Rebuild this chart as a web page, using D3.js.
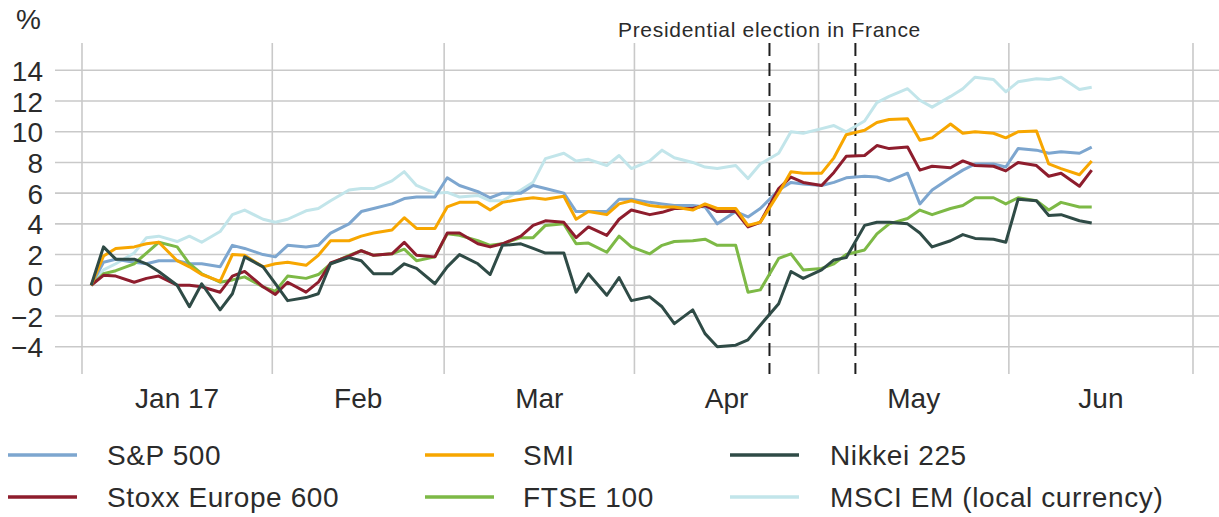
<!DOCTYPE html>
<html>
<head>
<meta charset="utf-8">
<script src="https://cdnjs.cloudflare.com/ajax/libs/d3/7.8.5/d3.min.js"></script>
<style>
  body { margin: 0; background: #fff; }
  text { font-family: "Liberation Sans", Arial, sans-serif; fill: #2b2b2b; }
</style>
</head>
<body>
<div class="chart"></div>
<script>
var dates = [
  "2017-01-02","2017-01-04","2017-01-06","2017-01-09","2017-01-11","2017-01-13","2017-01-16","2017-01-18","2017-01-20","2017-01-23","2017-01-25","2017-01-27","2017-01-30",
  "2017-02-01","2017-02-03","2017-02-06","2017-02-08","2017-02-10","2017-02-13","2017-02-15","2017-02-17","2017-02-20","2017-02-22","2017-02-24","2017-02-27",
  "2017-03-01","2017-03-03","2017-03-06","2017-03-08","2017-03-10","2017-03-13","2017-03-15","2017-03-17","2017-03-20","2017-03-22","2017-03-24","2017-03-27","2017-03-29","2017-03-31",
  "2017-04-03","2017-04-05","2017-04-07","2017-04-10","2017-04-12","2017-04-14","2017-04-17","2017-04-19","2017-04-21","2017-04-24","2017-04-26","2017-04-28",
  "2017-05-01","2017-05-03","2017-05-05","2017-05-08","2017-05-10","2017-05-12","2017-05-15","2017-05-17","2017-05-19","2017-05-22","2017-05-24","2017-05-26","2017-05-29","2017-05-31",
  "2017-06-02","2017-06-05","2017-06-07","2017-06-09","2017-06-12","2017-06-14"
];

var sp500 = [0,1.5,1.7,1.5,1.4,1.6,1.6,1.4,1.4,1.2,2.6,2.4,2.0,
  1.85,2.6,2.5,2.6,3.4,4.0,4.8,5.0,5.3,5.65,5.75,5.75,
  7.0,6.5,6.1,5.7,6.0,6.0,6.5,6.3,6.0,4.8,4.8,4.8,5.6,5.6,
  5.4,5.3,5.2,5.2,5.1,4.0,4.8,4.45,5.0,6.2,6.7,6.6,
  6.5,6.7,7.0,7.1,7.05,6.8,7.3,5.3,6.2,7.0,7.5,7.9,7.9,7.7,
  8.9,8.8,8.6,8.7,8.6,9.0];

var stoxx600 = [0,0.65,0.6,0.2,0.45,0.6,0.0,0.0,-0.1,-0.45,0.6,0.9,-0.1,
  -0.6,0.2,-0.45,0.2,1.45,1.9,2.25,1.95,2.05,2.8,1.95,1.85,
  3.4,3.4,2.7,2.5,2.7,3.2,3.9,4.2,4.1,3.1,3.8,3.25,4.3,4.9,
  4.6,4.75,5.0,5.0,5.2,4.8,4.8,3.8,4.1,6.3,7.05,6.7,
  6.5,7.35,8.4,8.45,9.1,8.9,9.0,7.5,7.75,7.65,8.1,7.8,7.75,7.45,
  8.0,7.8,7.1,7.3,6.45,7.5];

var smi = [0,1.9,2.4,2.5,2.7,2.8,1.6,1.2,0.7,0.25,2.0,1.95,1.2,
  1.4,1.5,1.3,1.95,2.9,2.9,3.2,3.4,3.6,4.4,3.7,3.7,
  5.1,5.4,5.4,4.9,5.4,5.6,5.7,5.6,5.8,4.3,4.8,4.6,5.3,5.5,
  5.2,5.1,5.1,4.9,5.3,5.0,5.0,3.9,4.1,6.0,7.4,7.3,
  7.3,8.3,9.8,10.1,10.6,10.8,10.85,9.45,9.6,10.5,9.9,10.0,9.9,9.6,
  10.0,10.05,7.9,7.6,7.2,8.1];

var ftse100 = [0,0.75,0.95,1.4,2.1,2.8,2.5,1.4,0.75,0.2,0.35,0.55,-0.1,
  -0.4,0.6,0.45,0.7,1.4,1.95,2.25,1.95,2.05,2.35,1.6,1.85,
  3.35,3.25,2.9,2.6,2.7,3.1,3.1,3.9,4.0,2.7,2.75,2.15,3.2,2.5,
  2.05,2.6,2.85,2.9,3.0,2.6,2.6,-0.45,-0.3,1.75,2.05,1.0,
  1.1,1.4,2.0,2.3,3.35,4.0,4.35,4.9,4.6,5.0,5.2,5.7,5.7,5.3,
  5.7,5.5,4.9,5.4,5.1,5.1];

var nikkei225 = [0,2.5,1.7,1.7,1.4,0.9,0.0,-1.4,0.1,-1.6,-0.55,1.85,1.2,
  0.1,-1.0,-0.8,-0.55,1.4,1.8,1.6,0.75,0.75,1.4,1.1,0.1,
  1.2,2.0,1.4,0.7,2.6,2.7,2.4,2.1,2.1,-0.45,0.75,-0.65,0.5,-1.0,
  -0.75,-1.4,-2.5,-1.6,-3.15,-4.0,-3.9,-3.55,-2.6,-1.2,0.9,0.45,
  1.0,1.65,1.8,3.9,4.1,4.1,4.0,3.4,2.5,2.9,3.3,3.05,3.0,2.8,
  5.6,5.5,4.55,4.6,4.2,4.05];

var msciEm = [0,1.0,1.4,2.1,3.1,3.2,2.85,3.2,2.8,3.5,4.6,4.9,4.3,
  4.1,4.3,4.85,5.0,5.5,6.2,6.3,6.3,6.8,7.4,6.5,6.0,
  6.05,5.75,5.85,5.5,5.5,6.2,6.7,8.25,8.6,8.1,8.2,7.8,8.45,7.6,
  8.1,8.8,8.3,8.0,7.7,7.6,7.8,6.95,7.9,8.6,10.0,9.9,
  10.2,10.4,10.0,10.7,11.9,12.3,12.8,12.05,11.6,12.3,12.8,13.55,13.4,12.6,
  13.25,13.45,13.4,13.55,12.75,12.9];

var seriesNames = ["S&P 500","Stoxx Europe 600","SMI","FTSE 100","Nikkei 225","MSCI EM (local currency)"];
var seriesValues = [sp500, stoxx600, smi, ftse100, nikkei225, msciEm];
var seriesColors = ["#7da6cf","#8e1d2d","#f7a600","#7db946","#2f4b46","#c2e5ea"];
var drawOrder = [5, 0, 3, 1, 2, 4];

var monthLabels = ["Jan 17","Feb","Mar","Apr","May","Jun"];
var yTicks = [-4,-2,0,2,4,6,8,10,12,14];
var eventDates = ["2017-04-23","2017-05-07"];
var eventLabel = "Presidential election in France";

var svgWidth = 1219;
var svgHeight = 517;
var parse = d3.timeParse("%Y-%m-%d");
var halfDay = 12 * 3600 * 1000;

var svg = d3.select(".chart")
            .append("svg")
            .attr("width", svgWidth)
            .attr("height", svgHeight);

var x = d3.scaleTime()
          .domain([new Date(2017, 0, 1), new Date(2017, 6, 1)])
          .range([82, 1193]);

var y = d3.scaleLinear()
          .domain([-4, 14])
          .range([346.7, 70.3]);

// horizontal grid
svg.append("g")
    .selectAll("line")
    .data(yTicks)
    .enter()
    .append("line")
    .attr("x1", 55)
    .attr("x2", svgWidth)
    .attr("y1", function(d) { return y(d); })
    .attr("y2", function(d) { return y(d); })
    .attr("stroke", "#c9c9c9")
    .attr("stroke-width", 1.6);

// vertical month grid
var monthStarts = d3.timeMonth.range(new Date(2017, 0, 1), new Date(2017, 6, 2));
svg.append("g")
    .selectAll("line")
    .data(monthStarts)
    .enter()
    .append("line")
    .attr("x1", function(d) { return x(d); })
    .attr("x2", function(d) { return x(d); })
    .attr("y1", 43)
    .attr("y2", 374)
    .attr("stroke", "#c9c9c9")
    .attr("stroke-width", 1.6);

// y axis labels
var yAxis = d3.axisLeft(y).tickValues(yTicks).tickSize(0).tickPadding(0);
var gy = svg.append("g")
    .attr("transform", "translate(43,0)")
    .call(yAxis);
gy.select(".domain").remove();
gy.selectAll("text")
    .attr("font-size", 28)
    .attr("font-family", "Liberation Sans, Arial, sans-serif")
    .attr("fill", "#2b2b2b")
    .attr("dy", "0.36em");

svg.append("text")
    .attr("x", 16)
    .attr("y", 29)
    .attr("font-size", 28)
    .text("%");

// month labels centred in each month
svg.append("g")
    .selectAll("text")
    .data(monthLabels)
    .enter()
    .append("text")
    .attr("x", function(d, i) {
      return (x(monthStarts[i]) + x(monthStarts[i + 1])) / 2;
    })
    .attr("y", 408)
    .attr("text-anchor", "middle")
    .attr("font-size", 28)
    .text(function(d) { return d; });

// event lines
svg.append("g")
    .selectAll("line")
    .data(eventDates)
    .enter()
    .append("line")
    .attr("x1", function(d) { return x(parse(d)); })
    .attr("x2", function(d) { return x(parse(d)); })
    .attr("y1", 43)
    .attr("y2", 374)
    .attr("stroke", "#1e1e1e")
    .attr("stroke-width", 2)
    .attr("stroke-dasharray", "13,7");

svg.append("text")
    .attr("x", x(parse(eventDates[0])))
    .attr("y", 36.5)
    .attr("text-anchor", "middle")
    .attr("font-size", 21)
    .attr("letter-spacing", 0.7)
    .text(eventLabel);

// lines
var line = d3.line()
    .x(function(d, i) { return x(new Date(parse(dates[i]).getTime() + halfDay)); })
    .y(function(d) { return y(d); });

svg.append("g")
    .selectAll("path")
    .data(drawOrder)
    .enter()
    .append("path")
    .attr("d", function(k) { return line(seriesValues[k]); })
    .attr("fill", "none")
    .attr("stroke", function(k) { return seriesColors[k]; })
    .attr("stroke-width", 3)
    .attr("stroke-linejoin", "round");

// legend: order shown column by column
var legendOrder = [0, 2, 4, 1, 3, 5];
var legendX = [8, 425, 730];
var legendY = [455, 497];

var legend = svg.append("g")
    .selectAll("g")
    .data(legendOrder)
    .enter()
    .append("g")
    .attr("transform", function(k, i) {
      return "translate(" + legendX[i % 3] + "," + legendY[Math.floor(i / 3)] + ")";
    });

legend.append("line")
    .attr("x1", 0)
    .attr("x2", 69)
    .attr("stroke", function(k) { return seriesColors[k]; })
    .attr("stroke-width", 3.5);

legend.append("text")
    .attr("x", function(k, i) { return [99, 98, 100][i % 3]; })
    .attr("y", 10)
    .attr("font-size", 28)
    .attr("letter-spacing", 0.6)
    .text(function(k) { return seriesNames[k]; });
</script>
</body>
</html>
